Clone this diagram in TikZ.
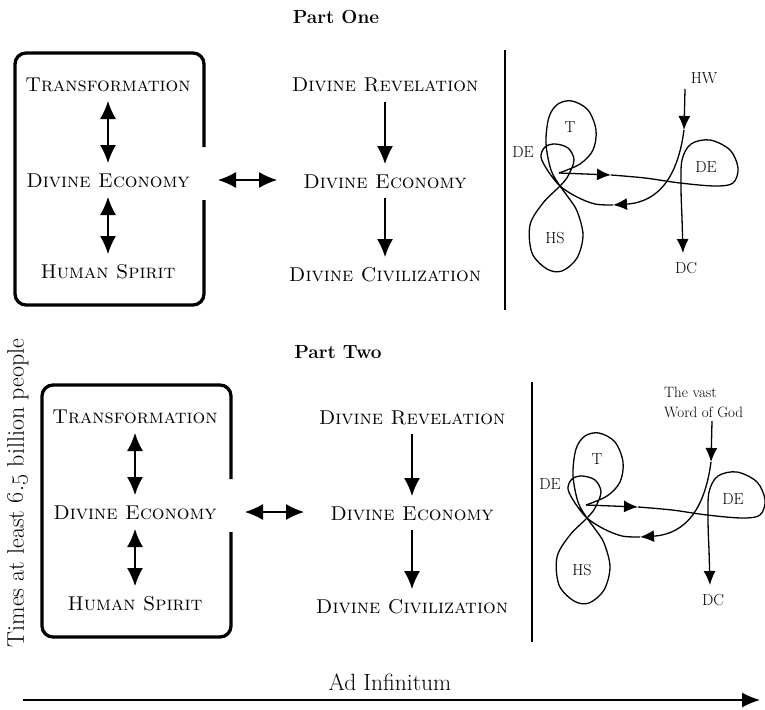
\documentclass[tikz,border=0pt]{standalone}
\usetikzlibrary{arrows.meta}

\tikzset{
  term/.style={font=\fontsize{20}{24}\selectfont\scshape, inner sep=0pt, outer sep=10pt,
               text height=14pt, text depth=0pt, anchor=base},
  tag/.style={font=\fontsize{16}{20}\selectfont, inner sep=0pt},
  heading/.style={font=\fontsize{19}{22}\selectfont\bfseries, inner sep=0pt},
  thin/.style={line width=1.3pt},
  frame/.style={line width=3.3pt, rounded corners=11pt},
  bigarrow/.style={thin, -{Latex[length=18pt,width=16pt]}},
  twoway/.style={thin, {Latex[length=18pt,width=16pt]}-{Latex[length=18pt,width=16pt]}},
  smallarrow/.style={thin, -{Latex[length=14pt,width=12pt]}},
}

% One panel: framed cycle, revelation chain, separator and the loop sketch.
% #1 = placement of the source label, #2 = its text
\newcommand\partpanel[2]{%
  % open frame round the cycle
  \draw[frame] (204,147) -- (204,53) -- (15,53) -- (15,305) -- (204,305) -- (204,200);
  \node[term] (tr) at (108,91)  {Transformation};
  \node[term] (ec) at (108,187) {Divine Economy};
  \node[term] (hs) at (108,278) {Human Spirit};
  \draw[twoway] (tr.south) -- (ec.north);
  \draw[twoway] (ec.south) -- (hs.north);
  % link out of the frame
  \coordinate (gapL) at (218,180);
  \coordinate (gapR) at (277,180);
  \draw[twoway] (gapL) -- (gapR);
  % revelation chain
  \node[term] (rv) at (385,92)  {Divine Revelation};
  \node[term] (ce) at (385,188) {Divine Economy};
  \node[term] (cv) at (385,281) {Divine Civilization};
  \draw[bigarrow] (rv.south) -- (ce.north);
  \draw[bigarrow] (ce.south) -- (cv.north);
  % separator
  \coordinate (sepTop) at (505,50);
  \coordinate (sepBot) at (505,310);
  \draw[thin] (sepTop) -- (sepBot);
  % loop sketch
  \node[tag] (src) #1 {#2};
  \node[tag] (lT)  at (570,127) {T};
  \node[tag] (lDE) at (523,152) {DE};
  \node[tag] (lHS) at (555,238) {HS};
  \node[tag] (rDE) at (706,167) {DE};
  \node[tag] (lDC) at (686,268) {DC};
  \coordinate (wTop)  at (685,89);
  \coordinate (wTip)  at (684,130);
  \coordinate (back)  at (613,205);
  \coordinate (fwdA)  at (559,173);
  \coordinate (fwdB)  at (611,175);
  \coordinate (down)  at (682,218);
  \coordinate (dTip)  at (683,253);
  \draw[smallarrow] (wTop) -- (wTip);
  \draw[smallarrow] (wTip) .. controls (678,175) and (660,202) .. (back);
  \draw[thin] plot[smooth, tension=0.55] coordinates {
    (back) (595,204) (577,197) (560,186) (548,171) (541,157) (545,147) (555,144)
    (568,148) (574,160) (568,176) (560,186) (543,203) (530,225) (532,253)
    (547,269) (562,271) (577,258) (583,235) (577,211) (568,197) (560,186)
    (551,170) (546,143) (549,117) (558,104) (572,101) (588,110) (596,130)
    (593,150) (580,164) (fwdA)};
  \draw[smallarrow] (fwdA) -- (fwdB);
  \draw[thin] plot[smooth, tension=0.55] coordinates {
    (fwdB) (645,178) (680,183) (715,186) (733,183) (738,168) (730,150)
    (710,140) (691,144) (682,160) (681,188) (down)};
  \draw[smallarrow] (down) -- (dTip);
}

\begin{document}
\begin{tikzpicture}[x=1pt, y=-1pt]
  \useasboundingbox (0,0) rectangle (765,709);

  \node[heading] (p1) at (336,17) {Part One};
  \begin{scope}[name prefix=one-]
    \partpanel{at (704,78)}{HW}
  \end{scope}

  \node[heading] (p2) at (338,352) {Part Two};
  \begin{scope}[shift={(27,332)}, name prefix=two-]
    \partpanel{[anchor=north west, align=left, font=\fontsize{15}{20}\selectfont] at (637,55)}{The vast\\Word of God}
  \end{scope}

  \node[font=\fontsize{24}{28}\selectfont, rotate=90, inner sep=0pt] (span)
    at (18,493) {Times at least \oldstylenums{6.5} billion people};

  \node[font=\fontsize{23.5}{28}\selectfont, inner sep=0pt, anchor=base] (adinf)
    at (390,690) {Ad Infinitum};
  \coordinate (tStart) at (23,700);
  \coordinate (tEnd) at (760,700);
  \draw[thin, -{Latex[length=18pt,width=15pt]}] (tStart) -- (tEnd);
\end{tikzpicture}
\end{document}
